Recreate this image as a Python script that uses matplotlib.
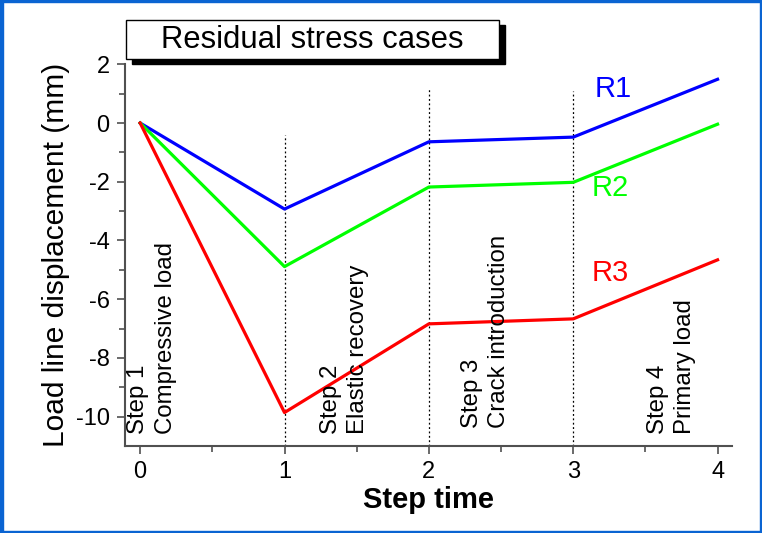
import matplotlib
matplotlib.use("Agg")
import matplotlib.pyplot as plt
from matplotlib.patches import Rectangle

plt.rcParams['font.family'] = ['Liberation Sans', 'DejaVu Sans']

# Data
step_time = [0, 1, 2, 3, 4]
r1 = [0.0, -2.93, -0.64, -0.48, 1.49]
r2 = [0.0, -4.89, -2.18, -2.02, -0.04]
r3 = [0.0, -9.86, -6.84, -6.67, -4.66]
series_names = ["R1", "R2", "R3"]
series_colors = ["#0000ff", "#00ff00", "#ff0000"]
step_lines_x = [1, 2, 3]
step_lines_top = [-0.4, 1.2, 1.1]
step_labels = ["Step 1\nCompressive load", "Step 2\nElastic recovery",
               "Step 3\nCrack introduction", "Step 4\nPrimary load"]
step_label_pos = [(-0.09, -10.6), (1.245, -10.6), (2.22, -10.4), (3.51, -10.6)]
name_pos = [(3.15, 1.16), (3.13, -2.2), (3.13, -5.1)]
title = "Residual stress cases"
xlabel = "Step time"
ylabel = "Load line displacement (mm)"
xticks = [0, 1, 2, 3, 4]
yticks = [2, 0, -2, -4, -6, -8, -10]

W, H = 762, 533
fig = plt.figure(figsize=(W / 100, H / 100), dpi=100)
fig.patch.set_facecolor("white")

# Blue frame
blue = "#0a64d2"
fig.patches.append(Rectangle((0, 0), 3 / W, 1, transform=fig.transFigure, color=blue, zorder=10))
fig.patches.append(Rectangle((0, 1 - 1.5 / H), 1, 1.5 / H, transform=fig.transFigure, color=blue, zorder=10))
fig.patches.append(Rectangle((0, 0), 1, 2.5 / H, transform=fig.transFigure, color=blue, zorder=10))
fig.patches.append(Rectangle((1 - 2 / W, 0), 2 / W, 1, transform=fig.transFigure, color=blue, zorder=10))

ax = fig.add_axes([125 / W, 1 - 446 / H, (732 - 125) / W, (446 - 64.3) / H])
ax.set_xlim(-0.105, 4.1)
ax.set_ylim(-11, 2)

for xs, t in zip(step_lines_x, step_lines_top):
    ax.plot([xs, xs], [-11, t], color="black", lw=0.9, ls=(0, (1.5, 2)), zorder=1)

for ys, c in zip([r1, r2, r3], series_colors):
    ax.plot(step_time, ys, color=c, lw=2.3, zorder=3, solid_joinstyle="round")

for name, c, (px, py) in zip(series_names, series_colors, name_pos):
    ax.text(px, py, name, color=c, fontsize=21, ha="left", va="center")

for lab, (px, py) in zip(step_labels, step_label_pos):
    ax.text(px, py, lab, rotation=90, fontsize=17.3, ha="left", va="bottom",
            multialignment="left", linespacing=1.32)

for s in ["top", "right"]:
    ax.spines[s].set_visible(False)
for s in ["left", "bottom"]:
    ax.spines[s].set_color("#505050")
    ax.spines[s].set_linewidth(1.5)

ax.set_xticks(xticks)
ax.set_yticks(yticks)
ax.set_xticklabels([str(v) for v in xticks])
ax.set_yticklabels([str(v) for v in yticks])
ax.set_xticks([0.5, 1.5, 2.5, 3.5], minor=True)
ax.set_yticks([1, -1, -3, -5, -7, -9], minor=True)
ax.tick_params(which="major", direction="out", length=6, width=1.2, color="#505050",
               labelsize=17, pad=5)
ax.tick_params(which="minor", direction="out", length=4, width=1.2, color="#505050")

ax.set_xlabel(xlabel, fontsize=21, fontweight="bold", labelpad=2)
ax.set_ylabel(ylabel, fontsize=21.5, labelpad=4)

# Title box with shadow
bx0, bx1, by0, by1 = 126, 499, 20, 59
fig.patches.append(Rectangle(((bx0 + 6) / W, 1 - (by1 + 5) / H), (bx1 - bx0) / W, (by1 - by0) / H,
                             transform=fig.transFigure, facecolor="black", edgecolor="black", zorder=5))
fig.patches.append(Rectangle((bx0 / W, 1 - by1 / H), (bx1 - bx0) / W, (by1 - by0) / H,
                             transform=fig.transFigure, facecolor="white", edgecolor="black",
                             lw=1.0, zorder=6))
fig.text((bx0 + bx1) / 2 / W, 1 - 40 / H, title, fontsize=22.3, ha="center", va="center", zorder=7)

fig.savefig("out.png", dpi=100)
